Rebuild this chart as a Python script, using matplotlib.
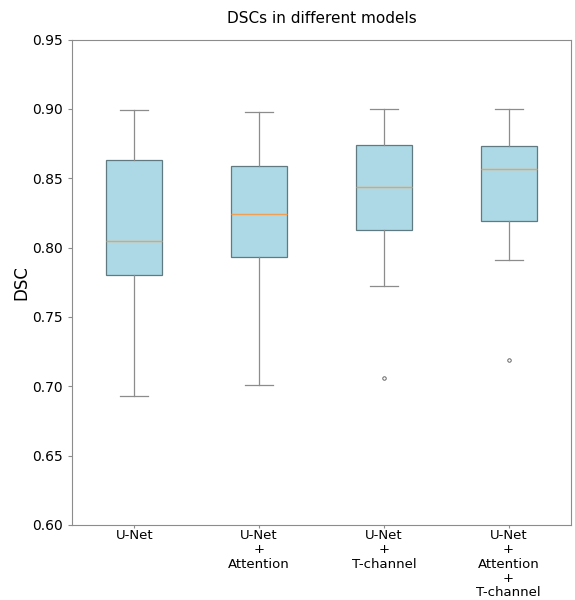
import matplotlib
matplotlib.use("Agg")
import matplotlib.pyplot as plt

# box statistics
models = ["U-Net", "U-Net\n+\nAttention", "U-Net\n+\nT-channel", "U-Net\n+\nAttention\n+\nT-channel"]
whislo = [0.693, 0.701, 0.772, 0.791]
q1 = [0.780, 0.793, 0.813, 0.819]
med = [0.805, 0.824, 0.844, 0.857]
q3 = [0.863, 0.859, 0.874, 0.873]
whishi = [0.899, 0.898, 0.900, 0.900]
outliers = [[], [], [0.706], [0.719]]

stats = []
for i in range(len(models)):
    stats.append(dict(label=models[i], whislo=whislo[i], q1=q1[i], med=med[i],
                      q3=q3[i], whishi=whishi[i], fliers=outliers[i]))

fig = plt.figure(figsize=(5.75, 6), dpi=100)
ax = fig.add_axes([0.125, 0.125, 0.868, 0.809])

gray = "#8c8c8c"
ax.bxp(stats, widths=0.45, patch_artist=True,
       boxprops=dict(facecolor="#add8e6", edgecolor="#5f7a80", linewidth=0.9),
       medianprops=dict(color="#f0a050", linewidth=1.0),
       whiskerprops=dict(color=gray, linewidth=0.9),
       capprops=dict(color=gray, linewidth=0.9),
       flierprops=dict(marker="o", markersize=2.5, markerfacecolor="none",
                       markeredgecolor="#666666", markeredgewidth=0.7))

ax.set_ylim(0.60, 0.95)
ax.set_yticks([0.60, 0.65, 0.70, 0.75, 0.80, 0.85, 0.90, 0.95])
ax.set_yticklabels(["%.2f" % v for v in ax.get_yticks()])
ax.tick_params(labelsize=10, color=gray, length=3)
ax.tick_params(axis="x", labelsize=9.5, length=2, pad=1)
for lab in ax.get_xticklabels():
    lab.set_linespacing(1.12)
for s in ax.spines.values():
    s.set_color(gray)
    s.set_linewidth(0.8)

ax.set_ylabel("DSC", fontsize=12, labelpad=1)
ax.set_title("DSCs in different models", fontsize=11, pad=12)

fig.savefig("out.png", dpi=100)
